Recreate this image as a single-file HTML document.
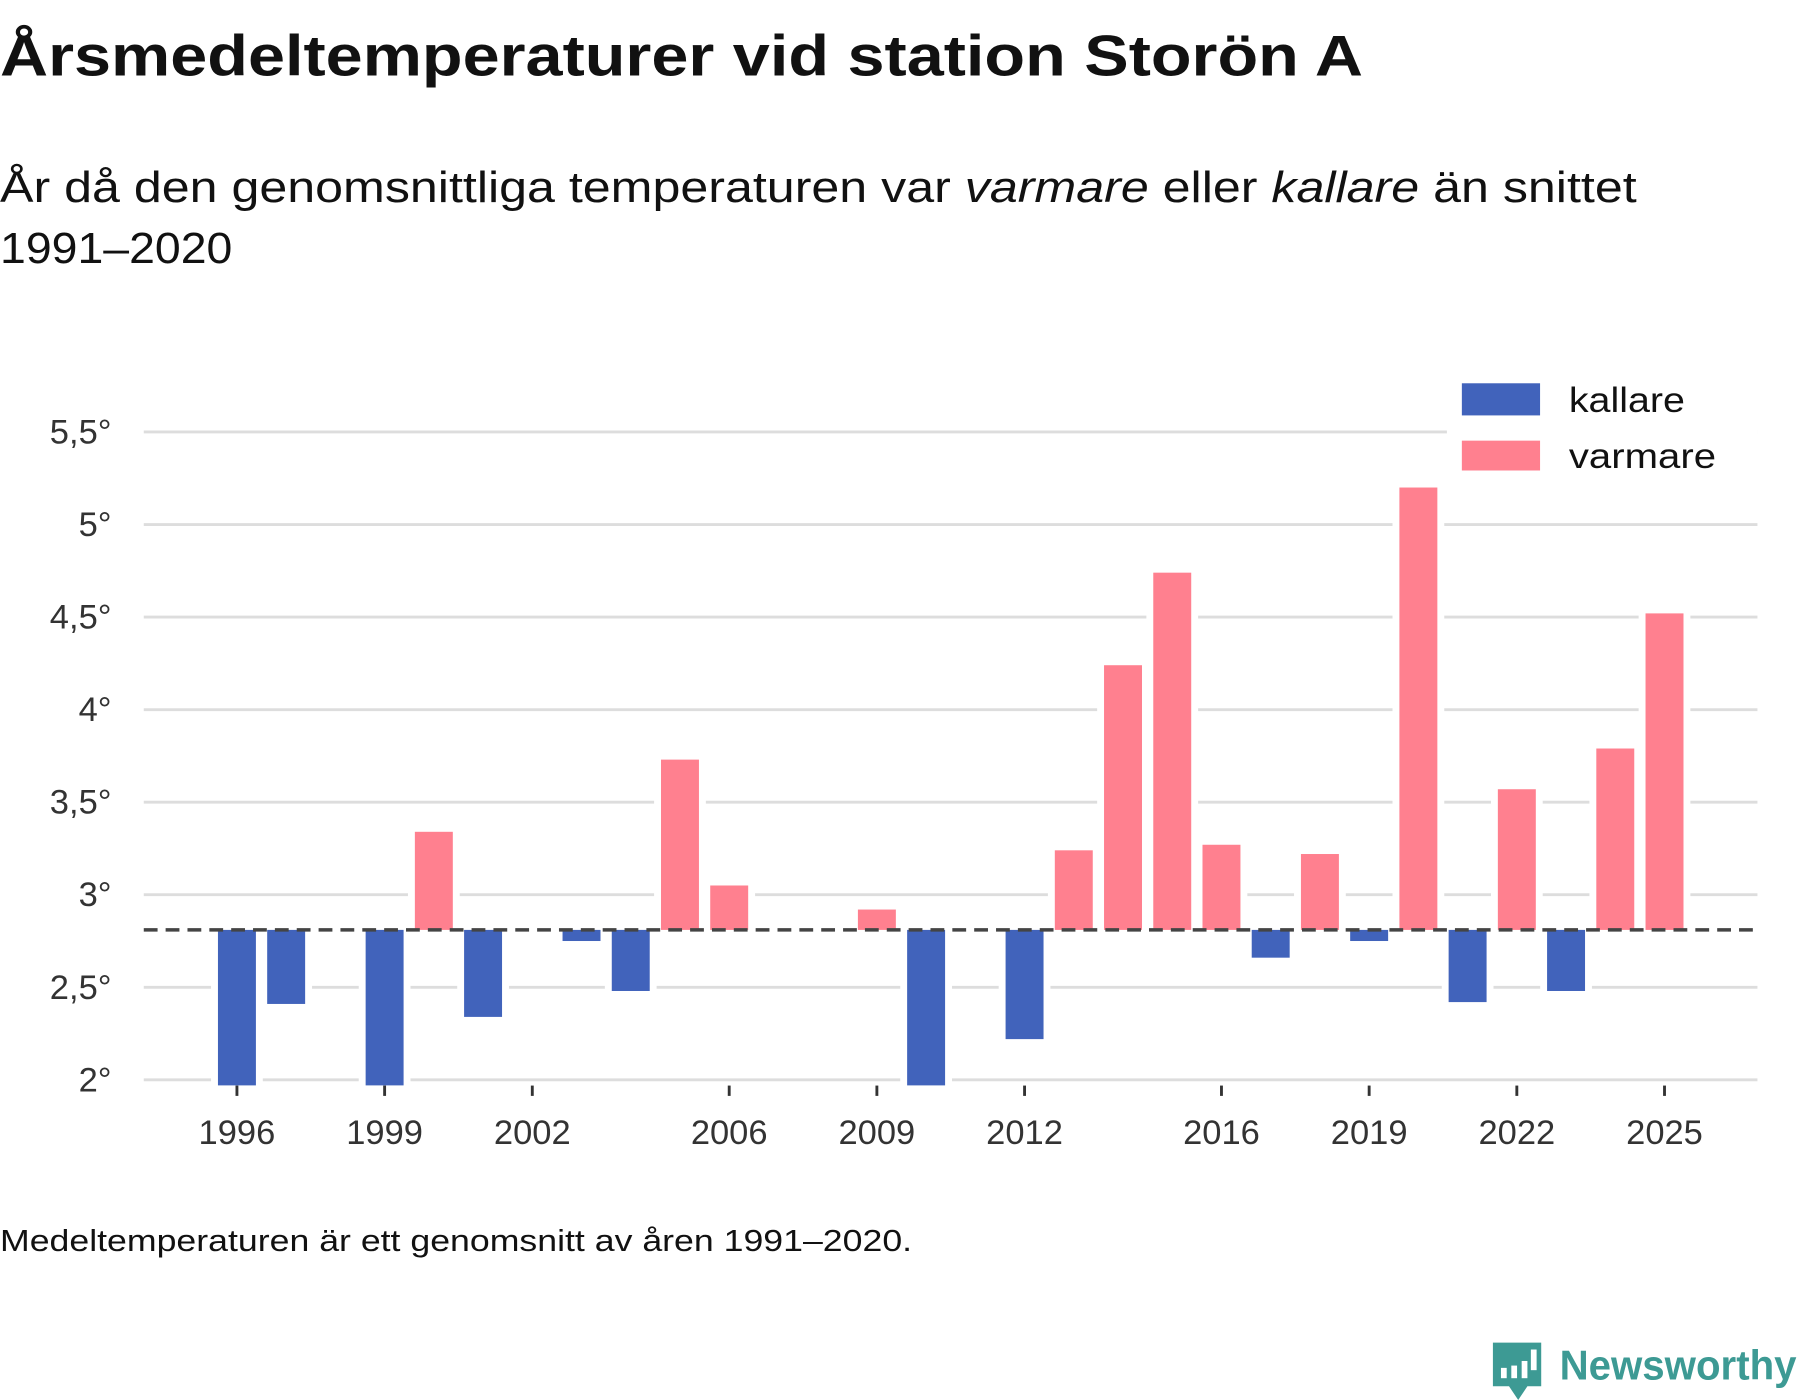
<!DOCTYPE html>
<html><head><meta charset="utf-8"><style>
html,body{margin:0;padding:0;background:#fff}
svg{display:block}
text{font-family:"Liberation Sans","DejaVu Sans",sans-serif}
</style></head><body>
<svg id="chart" width="1800" height="1400" viewBox="0 0 1565 1220" preserveAspectRatio="none" xmlns="http://www.w3.org/2000/svg">
<text x="0" y="66" font-size="50" font-weight="bold" fill="#111" textLength="1185" lengthAdjust="spacingAndGlyphs">Årsmedeltemperaturer vid station Storön A</text>
<text x="0" y="176" font-size="38" fill="#111" textLength="1423" lengthAdjust="spacingAndGlyphs">År då den genomsnittliga temperaturen var <tspan font-style="italic">varmare</tspan> eller <tspan font-style="italic">kallare</tspan> än snittet</text>
<text x="0" y="229" font-size="38" fill="#111" textLength="202" lengthAdjust="spacingAndGlyphs">1991–2020</text>
<g id="grid"></g>
<g id="yaxis"></g>
<g id="xaxis"></g>
<g id="bars"></g>
<g id="ref"></g>
<g>
<rect x="1258" y="325" width="270" height="95" fill="#fff"/>
<rect x="1271" y="334" width="68" height="28" fill="#4163bb"/>
<text x="1364" y="359" font-size="31" fill="#111" textLength="101" lengthAdjust="spacingAndGlyphs">kallare</text>
<rect x="1271" y="384" width="68" height="26" fill="#ff808f"/>
<text x="1364" y="408" font-size="31" fill="#111" textLength="128" lengthAdjust="spacingAndGlyphs">varmare</text>
</g>
<text x="0" y="1090" font-size="27" fill="#111" textLength="793" lengthAdjust="spacingAndGlyphs">Medeltemperaturen är ett genomsnitt av åren 1991–2020.</text>
<g>
<path d="M1298 1170 h42 v38 h-12 l-8 12 l-8 -12 h-14 z" fill="#3d9a94"/>
<rect x="1305" y="1192" width="5" height="9" fill="#fff"/>
<rect x="1314" y="1190" width="5" height="11" fill="#fff"/>
<rect x="1323" y="1186" width="5" height="15" fill="#fff"/>
<rect x="1331" y="1176" width="5" height="18" fill="#fff"/>
<text x="1356" y="1202" font-size="36" font-weight="bold" fill="#3d9a94" textLength="206" lengthAdjust="spacingAndGlyphs">Newsworthy</text>
</g>
</svg>
<script>
const years = [1996,1997,1998,1999,2000,2001,2002,2003,2004,2005,2006,2007,2008,2009,2010,2011,2012,2013,2014,2015,2016,2017,2018,2019,2020,2021,2022,2023,2024,2025];
const temps = [1.9,2.41,null,1.9,3.34,2.34,null,2.75,2.48,3.73,3.05,null,null,2.92,1.9,null,2.22,3.24,4.24,4.74,3.27,2.66,3.22,2.75,5.20,2.42,3.57,2.48,3.79,4.52];
const baseline = 2.81;
const yTicks = [2,2.5,3,3.5,4,4.5,5,5.5];
const yTickLabels = ["2°","2,5°","3°","3,5°","4°","4,5°","5°","5,5°"];
const xTickYears = [1996,1999,2002,2006,2009,2012,2016,2019,2022,2025];

const NS = "http://www.w3.org/2000/svg";
const yMin = 1.97;
function y(v){ return 941 - (v - 2) * 161.3; }
function x(yr){ return 206 + (yr - 1996) * 42.8; }
function mk(tag, attrs, parent){ const e=document.createElementNS(NS,tag); for(const k in attrs) e.setAttribute(k,attrs[k]); parent.appendChild(e); return e; }

const grid=document.getElementById('grid'), ya=document.getElementById('yaxis'), xa=document.getElementById('xaxis'), bars=document.getElementById('bars'), ref=document.getElementById('ref');
yTicks.forEach((t,i)=>{
  const l=mk('line',{x1:125,x2:1528,y1:y(t),y2:y(t),stroke:'#dddddd','stroke-width':2.5},grid);
  
  
  const tx=mk('text',{x:97,y:y(t)+10,'font-size':30,fill:'#333','text-anchor':'end'},ya);
  tx.textContent=yTickLabels[i];
  
  
});
xTickYears.forEach(yr=>{
  const tk=mk('line',{x1:x(yr),x2:x(yr),y1:946,y2:955,stroke:'#333','stroke-width':2.5},xa);
  
  
  const tx=mk('text',{x:x(yr),y:997,'font-size':30,fill:'#333','text-anchor':'middle'},xa);
  tx.textContent=String(yr);
  
  
});
const bw=33, pad=6;
years.forEach((yr,i)=>{
  const v=temps[i]; if(v===null) return;
  const vv=Math.max(v,yMin);
  const y0=y(baseline), y1=y(vv);
  const top=Math.min(y0,y1), h=Math.abs(y1-y0);
  const bg=mk('rect',{x:x(yr)-bw/2-pad,y:top-pad,width:bw+2*pad,height:h+2*pad,fill:'#fff'},grid);
  
  
  const r=mk('rect',{x:x(yr)-bw/2,y:top,width:bw,height:h,fill:v>=baseline?'#ff808f':'#4163bb'},bars);
  
  
});
const dl=mk('line',{x1:125,x2:1525,y1:y(baseline),y2:y(baseline),stroke:'#444','stroke-width':3,'stroke-dasharray':'12 7'},ref);


</script>
</body></html>
